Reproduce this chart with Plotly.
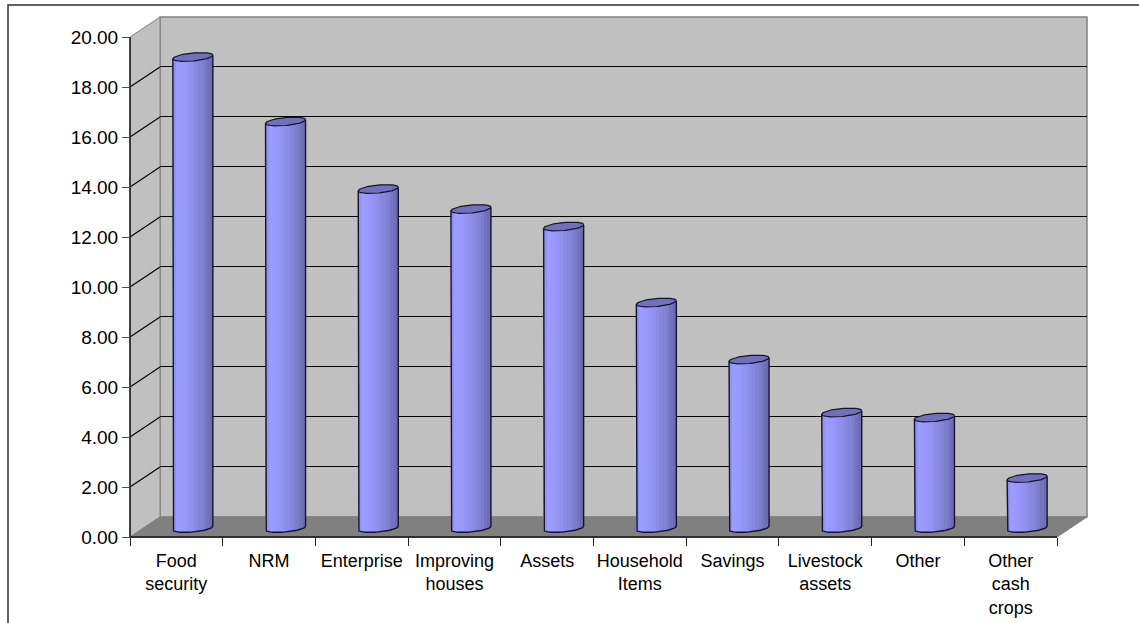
import numpy as np
import plotly.graph_objects as go

# Values
categories = ["Food<br>security", "NRM", "Enterprise", "Improving<br>houses", "Assets",
              "Household<br>Items", "Savings", "Livestock<br>assets", "Other",
              "Other<br>cash<br>crops"]
values = [18.80, 16.22, 13.52, 12.72, 12.02, 8.98, 6.70, 4.58, 4.38, 1.96]
y_ticks = [0, 2, 4, 6, 8, 10, 12, 14, 16, 18, 20]

# Canvas and oblique-projection geometry
W, H = 1139, 623
PX_X = 92.7           # pixels per category
PX_Y = 25.0           # pixels per value unit
LEFT, ZERO = 130, 537
DEPTH_X = 30 / PX_X   # wall offset, in x units
DEPTH_Y = 20 / PX_Y   # wall offset, in y units
GRID_NUDGE = 0.5 / PX_Y  # keeps one-pixel gridlines on a pixel row
x_range = [-0.5 - LEFT / PX_X, -0.5 + (W - LEFT) / PX_X]
y_range = [-(H - ZERO) / PX_Y, ZERO / PX_Y]
x_lo, x_hi, y_top = -0.5, 9.5, 20

# Cylinder geometry
CYL_HALF = 20 / PX_X
CYL_DX = 16.5 / PX_X
CYL_TOP_DY = 10 / PX_Y
CYL_BASE_DY = 9 / PX_Y
ELL_B = 4.0 / PX_Y
ELL_TILT = 1.8 / PX_Y
shade_stops = [0.0, 0.12, 0.3, 0.55, 0.8, 1.0]
shade_r = [0x8c, 0x9c, 0x98, 0x8c, 0x7c, 0x68]
shade_b = [0xe8, 0xff, 0xfa, 0xe6, 0xcc, 0xa8]
N_STRIPS = 12

shapes = []


def poly(points, fill, line="rgba(0,0,0,0)", width=0):
    path = "M" + " L".join(f"{a},{b}" for a, b in points) + " Z"
    shapes.append(dict(type="path", path=path, xref="x", yref="y", layer="below",
                       fillcolor=fill, line=dict(color=line, width=width)))


def seg(x0, y0, x1, y1, color, width):
    shapes.append(dict(type="line", x0=x0, y0=y0, x1=x1, y1=y1, xref="x", yref="y",
                       layer="below", line=dict(color=color, width=width)))


# Walls and floor
poly([(x_lo + DEPTH_X, DEPTH_Y), (x_hi + DEPTH_X, DEPTH_Y),
      (x_hi + DEPTH_X, y_top + DEPTH_Y), (x_lo + DEPTH_X, y_top + DEPTH_Y)],
     "#c0c0c0", "#808080", 1.5)
poly([(x_lo, 0), (x_lo, y_top), (x_lo + DEPTH_X, y_top + DEPTH_Y), (x_lo + DEPTH_X, DEPTH_Y)],
     "#c0c0c0", "#808080", 1)
poly([(x_lo, 0), (x_hi, 0), (x_hi + DEPTH_X, DEPTH_Y), (x_lo + DEPTH_X, DEPTH_Y)],
     "#808080", "#808080", 1)

# Gridlines wrap from the side wall onto the back wall
for v in y_ticks[1:-1]:
    seg(x_lo, v, x_lo + DEPTH_X, v + DEPTH_Y, "#000000", 1.1)
    seg(x_lo + DEPTH_X, v + DEPTH_Y + GRID_NUDGE, x_hi + DEPTH_X, v + DEPTH_Y + GRID_NUDGE,
        "#000000", 1)

# Front edges
seg(x_lo, 0, x_lo, y_top, "#000000", 1.3)
seg(x_lo, 0, x_hi, 0, "#303030", 2)

# Cylinder bodies as shaded vertical strips
strip_x, strip_top, strip_base, strip_col = [], [], [], []
edges = np.linspace(0, 1, N_STRIPS + 1)
strip_w = 2 * CYL_HALF / N_STRIPS
for i, val in enumerate(values):
    cx = i + CYL_DX
    for k in range(N_STRIPS):
        t = (edges[k] + edges[k + 1]) / 2
        u = 2 * t - 1
        r = np.interp(t, shade_stops, shade_r)
        b = np.interp(t, shade_stops, shade_b)
        strip_x.append(cx + u * CYL_HALF)
        strip_top.append(val + CYL_TOP_DY + ELL_TILT * u)
        strip_base.append(CYL_BASE_DY + ELL_TILT * u - ELL_B * np.sqrt(1 - u * u))
        strip_col.append(f"rgb({r:.0f},{r:.0f},{b:.0f})")

strip_top_arr = np.array(strip_top)
strip_base_arr = np.array(strip_base)

fig = go.Figure()
fig.add_trace(go.Bar(x=strip_x, y=strip_top_arr - strip_base_arr, base=strip_base_arr,
                     width=strip_w * 1.15, marker=dict(color=strip_col, line=dict(width=0)),
                     hoverinfo="skip", showlegend=False))

# Outline and elliptical cap of each cylinder
theta = np.linspace(0, 2 * np.pi, 73)
lower = np.linspace(np.pi, 2 * np.pi, 37)
for i, val in enumerate(values):
    cx = i + CYL_DX
    yc = val + CYL_TOP_DY
    bx = cx + CYL_HALF * np.cos(lower)
    by = CYL_BASE_DY + ELL_B * np.sin(lower) + ELL_TILT * np.cos(lower)
    ox = np.r_[cx - CYL_HALF, bx, cx + CYL_HALF]
    oy = np.r_[yc - ELL_TILT, by, yc + ELL_TILT]
    fig.add_trace(go.Scatter(x=ox, y=oy, mode="lines", line=dict(color="#141430", width=1.4),
                             hoverinfo="skip", showlegend=False))
    fig.add_trace(go.Scatter(x=cx + CYL_HALF * np.cos(theta),
                             y=yc + ELL_B * np.sin(theta) + ELL_TILT * np.cos(theta),
                             mode="lines", fill="toself", fillcolor="#7070bc",
                             line=dict(color="#141430", width=1.2),
                             hoverinfo="skip", showlegend=False))

# Outer frame, open on the right and at the bottom
shapes.append(dict(type="path", path=f"M{8/W},0 L{8/W},{1-5/H} L1,{1-5/H}", xref="paper",
                   yref="paper", layer="above", line=dict(color="#303030", width=1.5)))

x_font = dict(family="Liberation Sans, Arial, sans-serif", size=18, color="#000000")
y_font = dict(family="Liberation Sans, Arial, sans-serif", size=19, color="#000000")

fig.update_layout(
    width=W, height=H, autosize=False,
    margin=dict(l=0, r=0, t=0, b=0),
    paper_bgcolor="#ffffff", plot_bgcolor="#ffffff",
    showlegend=False, bargap=0, shapes=shapes,
    xaxis=dict(range=x_range, domain=[0, 1], anchor="free", position=(H - ZERO) / H,
               tickmode="array", tickvals=list(range(len(categories))), ticktext=categories,
               tickangle=0, ticks="", tickfont=x_font, ticklabelstandoff=11,
               showgrid=False, zeroline=False, showline=False,
               minor=dict(tickmode="array", tickvals=[x_lo + j for j in range(11)],
                          ticks="outside", ticklen=8, tickwidth=1.2, tickcolor="#202020",
                          showgrid=False)),
    yaxis=dict(range=y_range, domain=[0, 1], anchor="free", position=LEFT / W,
               tickmode="array", tickvals=y_ticks, ticktext=[f"{v:.2f}" for v in y_ticks],
               ticks="outside", ticklen=8, tickwidth=1.2, tickcolor="#505050",
               tickfont=y_font, showgrid=False, zeroline=False, showline=False),
)

fig.write_html("out.html", config=dict(displayModeBar=False))
